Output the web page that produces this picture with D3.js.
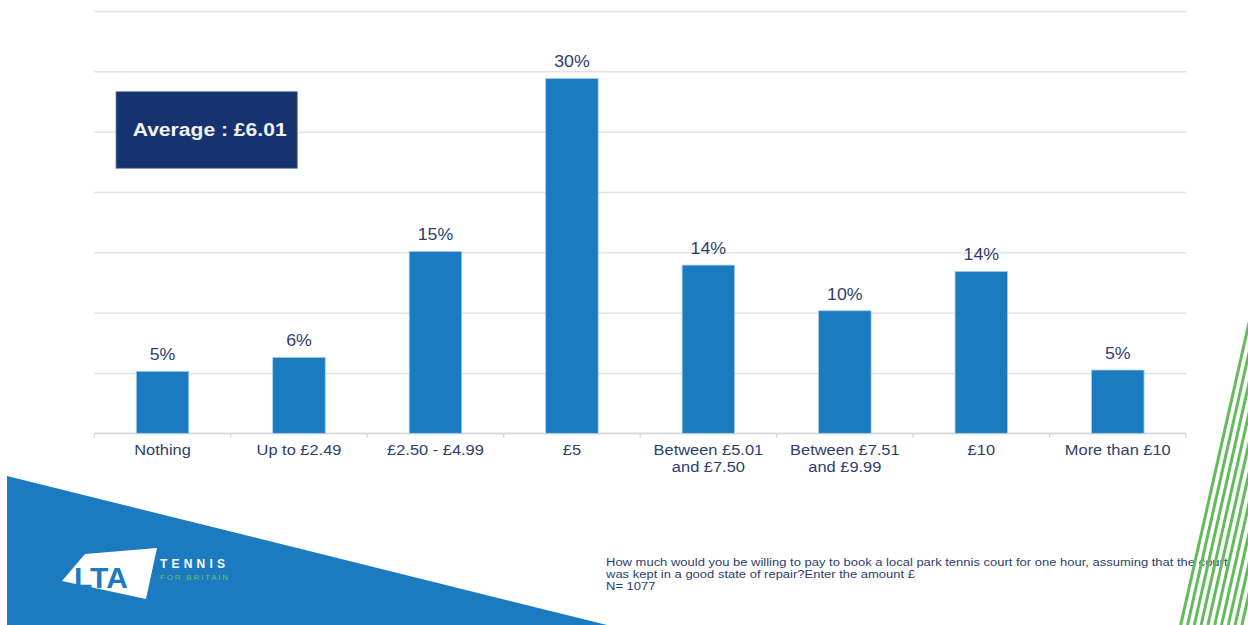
<!DOCTYPE html>
<html>
<head>
<meta charset="utf-8">
<script src="https://cdn.jsdelivr.net/npm/d3@7"></script>
<style>
  html, body { margin: 0; padding: 0; background: #ffffff; }
  svg { display: block; }
  text { font-family: "Liberation Sans", Arial, sans-serif; }
</style>
</head>
<body>
<svg id="chart" width="1248" height="625"></svg>
<script>
// ---- data ----
const categories = ["Nothing", "Up to £2.49", "£2.50 - £4.99", "£5",
  "Between £5.01\nand £7.50", "Between £7.51\nand £9.99", "£10", "More than £10"];
const values = [5.24, 6.42, 15.38, 30.0, 14.22, 10.36, 13.69, 5.35];
const gridValues = [0, 5.1, 10.2, 15.3, 20.4, 25.5, 30.6, 35.7];
const averageLabel = "Average : £6.01";
const questionLines = [
  "How much would you be willing to pay to book a local park tennis court for one hour, assuming that the court",
  "was kept in a good state of repair?Enter the amount £",
  "N= 1077"
];

// ---- layout ----
const SX = 1.11; // horizontal text stretch seen in the reference
const navy = "#2e3d6e";
const barBlue = "#1b7bc0";
const svg = d3.select("#chart");

const x = d3.scaleBand().domain(categories).range([94.3, 1186])
  .paddingInner(0.615).paddingOuter(0.3075);
const y = d3.scaleLinear().domain([0, 35.7]).range([433.3, 11]);

function stretchedText(g, tx, ty, str) {
  return g.append("text").attr("transform", `translate(${tx},${ty}) scale(${SX},1)`).text(str);
}

// background decorations
svg.append("path")
  .attr("d", d3.line()([[7, 476], [607, 625], [7, 625]]) + "Z")
  .attr("fill", "#1c7bc0");

// gridlines
const grid = svg.append("g").attr("transform", `translate(94.3,0)`)
  .call(d3.axisLeft(y).tickValues(gridValues).tickSize(-(1186 - 94.3)).tickFormat(""));
grid.select(".domain").remove();
grid.selectAll(".tick line").attr("stroke", "#e2e2e2").attr("stroke-width", 1.5);

// bottom axis ticks at band boundaries
const step = x.step();
const boundaries = d3.range(categories.length + 1).map(i => 94.3 + i * step);
svg.append("g").selectAll("line").data(boundaries).join("line")
  .attr("x1", d => d).attr("x2", d => d)
  .attr("y1", y(0)).attr("y2", y(0) + 4.5)
  .attr("stroke", "#d6d6d6").attr("stroke-width", 1.2);
svg.append("line").attr("x1", 94.3).attr("x2", 1186).attr("y1", y(0)).attr("y2", y(0))
  .attr("stroke", "#d9d9d9").attr("stroke-width", 1.5);

// bars
svg.append("g").selectAll("rect").data(values).join("rect")
  .attr("x", (d, i) => x(categories[i]))
  .attr("y", d => y(d))
  .attr("width", x.bandwidth())
  .attr("height", d => y(0) - y(d))
  .attr("fill", barBlue)
  .attr("stroke", "#a9cdea").attr("stroke-width", 0.8);

// value labels
const fmt = d3.format(".0f");
const lbl = svg.append("g").attr("fill", navy).attr("font-size", 16).attr("text-anchor", "middle");
values.forEach((v, i) => {
  stretchedText(lbl, x(categories[i]) + x.bandwidth() / 2, y(v) - 11, fmt(v) + "%");
});

// category labels
const cat = svg.append("g").attr("fill", navy).attr("font-size", 14.8).attr("text-anchor", "middle");
categories.forEach(c => {
  c.split("\n").forEach((line, j) => {
    stretchedText(cat, x(c) + x.bandwidth() / 2, 455 + j * 17, line);
  });
});

// average box
svg.append("rect").attr("x", 116).attr("y", 91.7).attr("width", 181.3).attr("height", 76.6)
  .attr("fill", "#17336f").attr("stroke", "#7186b6").attr("stroke-width", 0.8);
stretchedText(svg, 132.7, 135.7, averageLabel)
  .attr("fill", "#f2f2f2").attr("font-size", 19).attr("font-weight", "bold");

// question text
const q = svg.append("g").attr("fill", navy).attr("font-size", 11.7);
questionLines.forEach((t, i) => stretchedText(q, 606, 566 + i * 12, t));

// green stripes
const stripes = d3.range(10).map(i => 1180.7 + i * 6.8);
svg.append("g").selectAll("line").data(stripes).join("line")
  .attr("x1", d => d).attr("y1", 625)
  .attr("x2", d => d + 0.226 * 330).attr("y2", 295)
  .attr("stroke", "#63bb5b").attr("stroke-width", 3);

// LTA logo
svg.append("path")
  .attr("d", d3.line()([[62, 581], [85, 554], [157, 548], [146, 599]]) + "Z")
  .attr("fill", "#ffffff");
svg.append("text").attr("x", 74).attr("y", 588).attr("fill", "#1c7bc0")
  .attr("font-size", 30).attr("font-weight", "bold").attr("letter-spacing", 0).text("LTA");
svg.append("text").attr("x", 160).attr("y", 568).attr("fill", "#ffffff")
  .attr("font-size", 12).attr("font-weight", "bold").attr("letter-spacing", 4.2).text("TENNIS");
svg.append("text").attr("x", 160).attr("y", 580).attr("fill", "#6cbf5a")
  .attr("font-size", 8).attr("letter-spacing", 1.8).text("FOR BRITAIN");
</script>
</body>
</html>
